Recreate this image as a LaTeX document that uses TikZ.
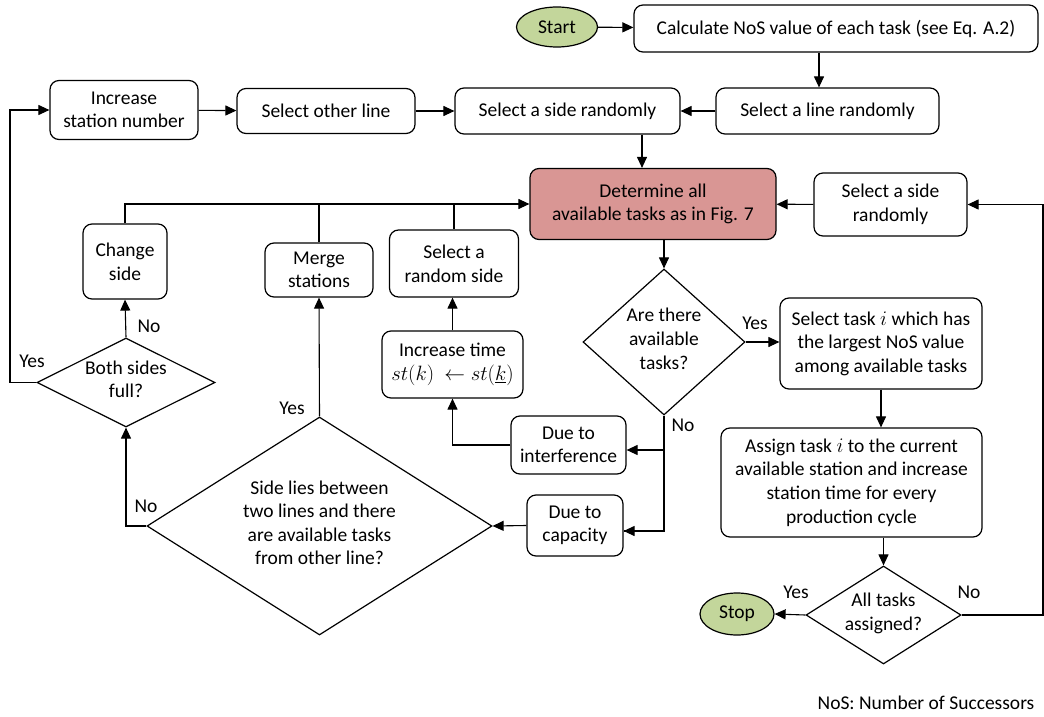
\documentclass[tikz,border=0pt]{standalone}
\usepackage{fontspec}
\setmainfont{Carlito}
\usetikzlibrary{shapes.geometric,arrows.meta}
\newcommand{\fs}{\fontsize{19.5}{23.6}\selectfont}
\newcommand{\dtext}[1]{\smash{\raisebox{-4pt}{\begin{tabular}{@{}c@{}}#1\end{tabular}}}}
\definecolor{termgreen}{RGB}{195,214,155}
\definecolor{detred}{RGB}{217,150,148}
\tikzset{
  box/.style={draw, rounded corners=9pt, line width=1.2pt, align=center, inner sep=0pt, font=\fs},
  term/.style={draw, ellipse, fill=termgreen, line width=1.2pt, inner sep=0pt, font=\fs},
  dia/.style={draw, diamond, line width=1.2pt, inner sep=0pt, font=\fs},
  arr/.style={line width=1.1pt, -{Triangle[length=11pt,width=10pt]}},
  ln/.style={line width=1.1pt},
  lbl/.style={font=\fs, inner sep=0pt}
}
\begin{document}
\begin{tikzpicture}[x=1pt,y=-1pt]
\useasboundingbox (0,0) rectangle (1044,717);
% nodes
\node[term, minimum width=81pt, minimum height=40pt] (start) at (557,27) {Start};
\node[box, minimum width=404pt, minimum height=47pt] (calc) at (836,28.5) {Calculate NoS value of each task (see Eq. A.2)};
\node[box, minimum width=223pt, minimum height=46pt] (selline) at (827.5,111) {Select a line randomly};
\node[box, minimum width=225pt, minimum height=46pt] (sside) at (567.5,111) {Select a side randomly};
\node[box, minimum width=178pt, minimum height=45pt] (sol) at (326,111) {Select other line};
\node[box, minimum width=148pt, minimum height=59pt] (isn) at (124,110) {Increase\\station number};
\node[box, fill=detred, minimum width=246pt, minimum height=71pt] (det) at (653,204) {Determine all\\available tasks as in Fig. 7};
\node[box, minimum width=153pt, minimum height=63pt] (sside2) at (890.5,204.5) {Select a side\\randomly};
\node[box, minimum width=84pt, minimum height=75pt] (change) at (125,261.5) {Change\\side};
\node[box, minimum width=108pt, minimum height=54pt] (merge) at (319,270) {Merge\\stations};
\node[box, minimum width=129pt, minimum height=67pt] (rside) at (454,263.5) {Select a\\random side};
\node[dia, minimum width=178pt, minimum height=89pt] (both) at (126,382.5) {\dtext{Both sides\\full?}};
\node[box, minimum width=141pt, minimum height=67pt] (inct) at (452.5,364.5) {Increase time\\$st(k)\ \leftarrow st(\underline{k})$};
\node[box, minimum width=115pt, minimum height=58pt] (dti) at (568.5,445) {Due to\\interference};
\node[box, minimum width=96pt, minimum height=61pt] (dtc) at (575,525.5) {Due to\\capacity};
\node[dia, minimum width=345pt, minimum height=218pt] (big) at (319.5,526) {\dtext{Side lies between\\two lines and there\\are available tasks\\from other line?}};
\node[dia, minimum width=162pt, minimum height=146pt] (are) at (664,342) {\dtext{Are there\\available\\tasks?}};
\node[box, minimum width=202pt, minimum height=91pt] (seltask) at (881,343.5) {Select task $i$ which has\\the largest NoS value\\among available tasks};
\node[box, minimum width=261pt, minimum height=109pt] (assign) at (851.5,482.5) {Assign task $i$ to the current\\available station and increase\\station time for every\\production cycle};
\node[dia, minimum width=155pt, minimum height=98pt] (all) at (883.5,615) {\dtext{All tasks\\assigned?}};
\node[term, minimum width=74pt, minimum height=42pt] (stop) at (737,614) {Stop};
\node[lbl] (note) at (926,703) {NoS: Number of Successors};
% labels
\node[lbl] (l1) at (149,326) {No};
\node[lbl] (l2) at (32,361) {Yes};
\node[lbl] (l3) at (292,408) {Yes};
\node[lbl] (l4) at (146,506) {No};
\node[lbl] (l5) at (755,323) {Yes};
\node[lbl] (l6) at (683,425) {No};
\node[lbl] (l7) at (796,592) {Yes};
\node[lbl] (l8) at (969,592) {No};
% helper coordinates
\coordinate (cx1) at (819,0);
\coordinate (cx2) at (642,0);
\coordinate (rr) at (1043,0);
\coordinate (ll) at (10,0);
% connectors
\draw[arr] (start) -- (calc);
\draw[arr] (calc.south -| cx1) -- (selline.north -| cx1);
\draw[arr] (selline) -- (sside);
\draw[arr] (isn) -- (sol);
\draw[arr] (sol) -- (sside);
\draw[arr] (sside.south -| cx2) -- (det.north -| cx2);
\draw[arr] (sside2) -- (det);
\draw[arr] (det.south -| are.north) -- (are.north);
\draw[arr] (are.east) -- (are.east -| seltask.west);
\draw[arr] (seltask.south) -- (seltask.south |- assign.north);
\draw[arr] (assign.south -| all.north) -- (all.north);
\draw[arr] (all.west) -- (stop.east);
\draw[arr] (all.east) -- (all.east -| rr) |- (sside2.east);
\draw[ln] (are.south) |- ([yshift=-5.5pt]dtc.east);
\draw[arr] ([yshift=-5.5pt]dtc.east -| are.south) -- ([yshift=-5.5pt]dtc.east);
\draw[arr] ([yshift=-5pt]dti.east -| are.south) -- ([yshift=-5pt]dti.east);
\draw[arr] (dtc.west) -- (big.east);
\draw[arr] (dti.west) -| (inct.south);
\draw[arr] (inct.north) -- (inct.north |- rside.south);
\draw[arr] (big.north) -- (merge.south);
\draw[arr] (big.west) -| (both.south);
\draw[arr] (both.north) -- (change.south);
\draw[arr] (both.west) -- (both.west -| ll) |- (isn.west);
\draw[arr] (change.north) |- (det.west);
\draw[ln] (merge.north) -- (merge.north |- det.west);
\draw[ln] (rside.north) -- (rside.north |- det.west);
\end{tikzpicture}
\end{document}
